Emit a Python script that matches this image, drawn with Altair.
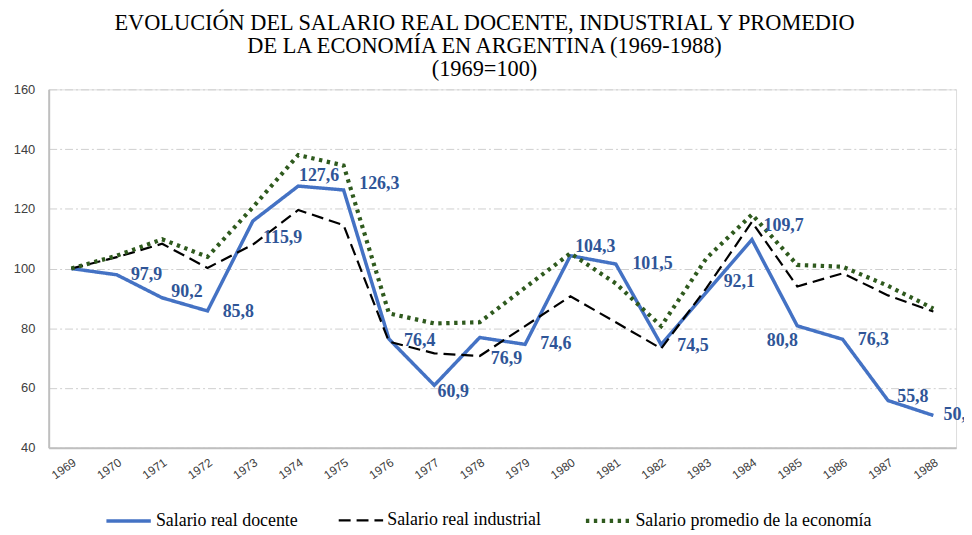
import altair as alt
import pandas as pd

# ---------------- data ----------------
years = list(range(1969, 1989))
docente = [100.0, 97.9, 90.2, 85.8, 115.9, 127.6, 126.3, 76.4, 60.9, 76.9,
           74.6, 104.3, 101.5, 74.5, 92.1, 109.7, 80.8, 76.3, 55.8, 50.8]
industrial = [100.0, 103.8, 108.3, 100.2, 108.0, 119.6, 114.5, 75.5, 71.6, 70.7,
              80.7, 90.7, 82.0, 73.2, 93.5, 115.6, 94.0, 98.4, 91.0, 85.6]
promedio = [100.0, 104.3, 109.8, 103.9, 120.5, 138.0, 134.5, 85.0, 81.6, 82.0,
            93.6, 105.1, 95.0, 80.7, 103.5, 118.1, 101.2, 100.6, 94.2, 86.6]
series_names = ["Salario real docente", "Salario real industrial",
                "Salario promedio de la economía"]
title_lines = ["EVOLUCIÓN DEL SALARIO REAL DOCENTE, INDUSTRIAL Y PROMEDIO",
               "DE LA ECONOMÍA EN ARGENTINA  (1969-1988)",
               "(1969=100)"]
y_ticks = [40, 60, 80, 100, 120, 140, 160]

# label offsets (pixels) for the data labels of the docente series
label_dx = [0, 30, 25, 31, 30, 21, 36, 31, 19, 27, 31, 25, 37, 32, 33, 32, -15, 31, 25, 26]
label_dy = [0, 0, -6, 1, 17, -10, -6, 2, 7, 22, 0, -9, 0, 1, -10, -14, 15, 1, -4, 0]

# ---------------- layout ----------------
W, H = 914, 361
PAD = {"left": 41, "top": 80, "right": 8, "bottom": 86}
px_per_year = W / 20.0
px_per_unit = H / 120.0

rows = []
for name, vals in zip(series_names, [docente, industrial, promedio]):
    for y, v in zip(years, vals):
        rows.append({"year": y, "value": v, "serie": name})
lines_df = pd.DataFrame(rows)

lab_rows = []
for i, (y, v) in enumerate(zip(years, docente)):
    if i == 0:
        continue
    lab_rows.append({
        "lx": y + label_dx[i] / px_per_year,
        "ly": v - label_dy[i] / px_per_unit,
        "txt": f"{v:.1f}".replace(".", ","),
    })
labels_df = pd.DataFrame(lab_rows)

x_scale = alt.Scale(domain=[1968.5, 1988.5], nice=False, zero=False)
y_scale = alt.Scale(domain=[40, 160], nice=False, zero=False)

x_axis = alt.Axis(values=years, format="d", labelAngle=-35, labelFont="Liberation Sans",
                  labelFontSize=12, labelColor="#404040", ticks=False, grid=False,
                  domainColor="#BFBFBF", domainWidth=2, labelPadding=9, title=None,
                  labelOverlap=False)
y_axis = alt.Axis(values=y_ticks, grid=True, gridColor="#CFCFCF", gridDash=[8, 3, 2, 3],
                  gridWidth=1, domainColor="#BFBFBF", domainWidth=2, ticks=False,
                  labelFont="Liberation Sans", labelFontSize=13, labelColor="#404040",
                  labelPadding=14, title=None)

color_scale = alt.Scale(domain=series_names, range=["#4472C4", "#000000", "#2F5A1E"])
dash_scale = alt.Scale(domain=series_names, range=[[1, 0], [12, 6], [3.4, 4.6]])
width_scale = alt.Scale(type="ordinal", domain=series_names, range=[3.5, 2.2, 4.2])

legend = alt.Legend(orient="none", legendX=56, legendY=410, direction="horizontal",
                    title=None, symbolType="stroke", symbolSize=2000, symbolStrokeWidth=3.5,
                    labelFont="Liberation Serif", labelFontSize=18, labelColor="#000000",
                    labelOffset=3, columnPadding=36, labelLimit=400)

lines = alt.Chart(lines_df).mark_line(strokeJoin="miter").encode(
    x=alt.X("year:Q", scale=x_scale, axis=x_axis),
    y=alt.Y("value:Q", scale=y_scale, axis=y_axis),
    color=alt.Color("serie:N", scale=color_scale, legend=legend, sort=series_names),
    strokeDash=alt.StrokeDash("serie:N", scale=dash_scale, legend=legend, sort=series_names),
    strokeWidth=alt.StrokeWidth("serie:N", scale=width_scale, legend=None),
    order=alt.Order("serie_order:Q"),
    detail="serie:N",
).transform_calculate(
    serie_order="datum.serie == 'Salario real docente' ? 2 : (datum.serie == 'Salario real industrial' ? 1 : 0)"
)

texts = alt.Chart(labels_df).mark_text(
    font="Liberation Serif", fontSize=18, fontWeight="bold", color="#2F5597",
    align="center", baseline="middle"
).encode(
    x=alt.X("lx:Q", scale=x_scale),
    y=alt.Y("ly:Q", scale=y_scale),
    text="txt:N",
)

chart = alt.layer(lines, texts).properties(
    width=W, height=H,
    autosize=alt.AutoSizeParams(type="none"),
    padding=PAD,
    title=alt.Title(text=title_lines, font="Liberation Serif", fontSize=22.5,
                    fontWeight="normal", color="#000000", anchor="middle",
                    frame="group", dx=-18, lineHeight=23, offset=3),
).configure_view(stroke=None).configure(background="white").configure_legend(
    labelFont="Liberation Serif", labelFontSize=18, labelColor="#000000"
)

chart.save("out.html", embed_options={"renderer": "svg", "actions": False})
